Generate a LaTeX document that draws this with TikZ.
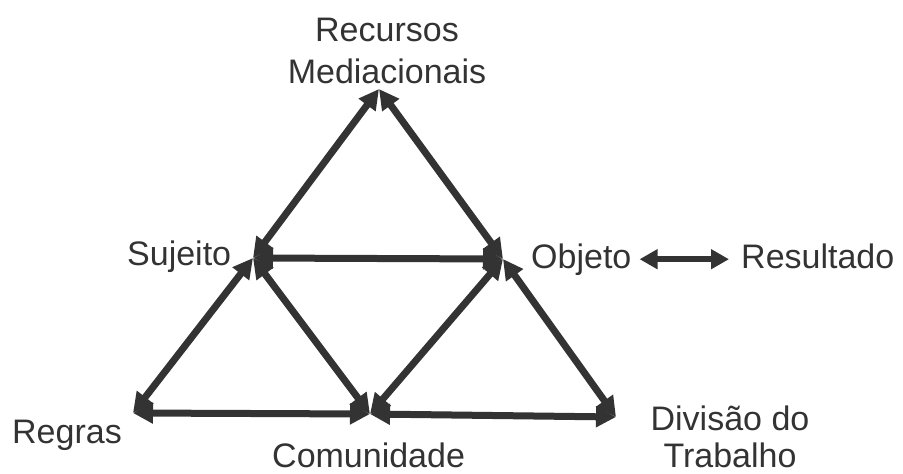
\documentclass[tikz,border=0pt]{standalone}
\usepackage{fontspec}
\setmainfont{Liberation Sans}
\usetikzlibrary{arrows.meta}
\definecolor{ink}{RGB}{51,51,51}
\tikzset{
  edge/.style={draw=ink, line width=7pt, {Triangle[length=20pt,width=20pt]}-{Triangle[length=20pt,width=20pt]}},
  resedge/.style={draw=ink, line width=6.5pt, {Triangle[length=18pt,width=19pt]}-{Triangle[length=18pt,width=19pt]}},
  lbl/.style={text=ink, inner sep=0pt, font=\fontsize{34}{37}\selectfont, align=center}
}
\begin{document}
\begin{tikzpicture}[x=1pt,y=-1pt]
\useasboundingbox (0,0) rectangle (903,474);
% vertices
\coordinate (T) at (379,89);
\coordinate (S) at (253,258);
\coordinate (O) at (503,259);
\coordinate (R) at (133,413);
\coordinate (C) at (370,414);
\coordinate (D) at (616,417);
% edges
\draw[edge] (T) -- (S);
\draw[edge] (T) -- (O);
\draw[edge] (S) -- (O);
\draw[edge] (S) -- (R);
\draw[edge] (S) -- (C);
\draw[edge] (O) -- (C);
\draw[edge] (O) -- (D);
\draw[edge] (R) -- (C);
\draw[edge] (C) -- (D);
% labels
\node[lbl, anchor=base] (rec) at (387,83) {Recursos\\[5pt]Mediacionais};
\node[lbl, anchor=base west] (suj) at (127,265) {Sujeito};
\node[lbl, anchor=base west] (obj) at (531,268) {Objeto};
\node[lbl, anchor=base west] (res) at (741,268) {Resultado};
\node[lbl, anchor=base west] (reg) at (12,443) {Regras};
\node[lbl, anchor=base west] (com) at (272,467) {Comunidade};
\node[lbl, anchor=base] (div) at (730,467) {Divisão do\\Trabalho};
\draw[resedge, shorten <=8pt, shorten >=12pt] (obj.east) -- (obj.east -| res.west);
\end{tikzpicture}
\end{document}
